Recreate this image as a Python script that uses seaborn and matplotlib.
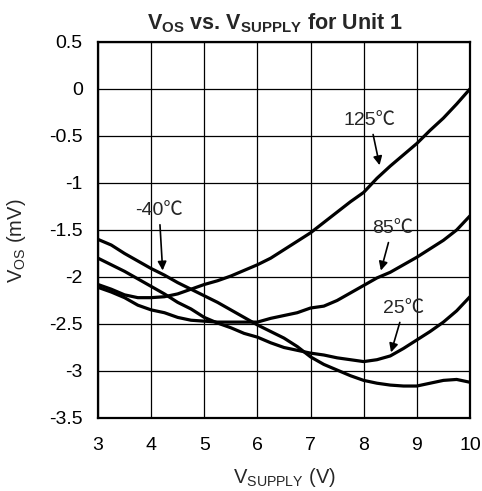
import numpy as np
import pandas as pd
import matplotlib
matplotlib.use('Agg')
import matplotlib.pyplot as plt
import seaborn as sns

# supply voltage (V)
vsupply = [3.0, 3.25, 3.5, 3.75, 4.0, 4.25, 4.5, 4.75, 5.0, 5.25, 5.5, 5.75,
           6.0, 6.25, 6.5, 6.75, 7.0, 7.25, 7.5, 7.75, 8.0, 8.25, 8.5, 8.75,
           9.0, 9.25, 9.5, 9.75, 10.0]

# offset voltage (mV) per temperature
vos_m40 = [-1.60, -1.66, -1.75, -1.83, -1.91, -1.98, -2.06, -2.13, -2.20, -2.27,
           -2.35, -2.43, -2.51, -2.58, -2.65, -2.74, -2.85, -2.93, -2.99, -3.05,
           -3.10, -3.13, -3.15, -3.16, -3.16, -3.13, -3.10, -3.09, -3.12]
vos_25 = [-1.80, -1.87, -1.94, -2.02, -2.10, -2.18, -2.27, -2.34, -2.43, -2.49,
          -2.54, -2.60, -2.64, -2.70, -2.75, -2.78, -2.81, -2.83, -2.86, -2.88,
          -2.90, -2.88, -2.84, -2.76, -2.67, -2.58, -2.48, -2.36, -2.21]
vos_85 = [-2.11, -2.16, -2.22, -2.30, -2.35, -2.38, -2.43, -2.46, -2.47, -2.48,
          -2.48, -2.48, -2.48, -2.44, -2.41, -2.38, -2.33, -2.31, -2.25, -2.17,
          -2.09, -2.01, -1.95, -1.87, -1.79, -1.70, -1.61, -1.50, -1.35]
vos_125 = [-2.08, -2.13, -2.19, -2.22, -2.22, -2.21, -2.18, -2.13, -2.08, -2.04,
           -1.99, -1.93, -1.87, -1.80, -1.71, -1.62, -1.53, -1.42, -1.31, -1.20,
           -1.10, -0.95, -0.82, -0.70, -0.58, -0.44, -0.31, -0.16, 0.00]

temps = ['-40℃', '25℃', '85℃', '125℃']

df = pd.DataFrame({
    'vsupply': vsupply * 4,
    'vos': vos_m40 + vos_25 + vos_85 + vos_125,
    'temp': [t for t in temps for _ in vsupply],
})

sns.set_style('white')
plt.rcParams['font.family'] = ['Liberation Sans', 'DejaVu Sans']
plt.rcParams['mathtext.fontset'] = 'custom'
plt.rcParams['mathtext.rm'] = 'Liberation Sans'
plt.rcParams['mathtext.it'] = 'Liberation Sans'
plt.rcParams['mathtext.bf'] = 'Liberation Sans:bold'

fig = plt.figure(figsize=(4.82, 4.91), dpi=100)
ax = fig.add_axes([0.2033, 0.1487, 0.7717, 0.7658])

sns.lineplot(data=df, x='vsupply', y='vos', hue='temp', estimator=None,
             palette=['black'] * 4, linewidth=2.3, legend=False, ax=ax, zorder=3)

ax.set_xlim(3, 10)
ax.set_ylim(-3.5, 0.5)
ax.set_xticks(range(3, 11))
ax.set_yticks(np.arange(-3.5, 0.51, 0.5))
ax.set_yticklabels(['-3.5', '-3', '-2.5', '-2', '-1.5', '-1', '-0.5', '0', '0.5'])
ax.grid(True, color='black', linewidth=0.9)
ax.tick_params(length=0, labelsize=14, colors='black')
ax.tick_params(axis='y', pad=11)
ax.tick_params(axis='x', pad=14)
for s in ax.spines.values():
    s.set_color('black')
    s.set_linewidth(1.6)

ax.set_xlabel(r'V$_{\mathrm{SUPPLY}}$ (V)', fontsize=14.5, labelpad=8)
ax.set_ylabel(r'V$_{\mathrm{OS}}$ (mV)', fontsize=14.5, labelpad=15, y=0.47)
ax.set_title(r'$\mathbf{V_{OS}}$ vs. $\mathbf{V_{SUPPLY}}$ for Unit 1',
             fontsize=15.5, fontweight='bold', pad=9, x=0.477)

arrow = dict(arrowstyle='-|>', color='black', lw=1.2, mutation_scale=13)
notes = [('125℃', (8.31, -0.84), (8.12, -0.33)),
         ('85℃', (8.31, -1.96), (8.54, -1.48)),
         ('25℃', (8.50, -2.83), (8.76, -2.33)),
         ('-40℃', (4.22, -1.96), (4.15, -1.29))]
for label, tip, txt in notes:
    ax.annotate(label, xy=tip, xytext=txt, fontsize=14,
                family=['Liberation Sans', 'Noto Sans CJK SC', 'DejaVu Sans'],
                ha='center', va='center', arrowprops=arrow, zorder=4)

fig.savefig('out.png', dpi=100)
